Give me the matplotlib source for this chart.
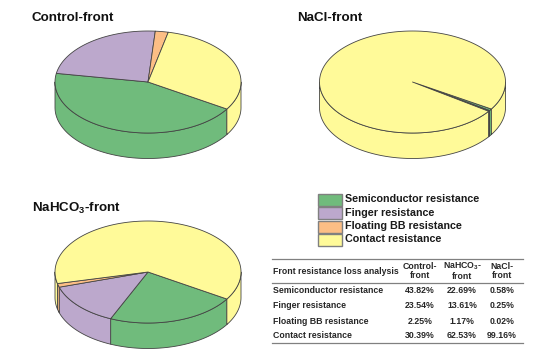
import numpy as np
import matplotlib
matplotlib.use("Agg")
import matplotlib.pyplot as plt
from matplotlib.patches import Rectangle

plt.rcParams['font.family'] = ['Liberation Sans', 'DejaVu Sans']
plt.rcParams['mathtext.fontset'] = 'custom'
plt.rcParams['mathtext.bf'] = 'Liberation Sans:bold'
plt.rcParams['mathtext.rm'] = 'Liberation Sans:bold'

categories = ['Semiconductor resistance', 'Finger resistance',
              'Floating BB resistance', 'Contact resistance']
control = [43.82, 23.54, 2.25, 30.39]
nahco3 = [22.69, 13.61, 1.17, 62.53]
nacl = [0.58, 0.25, 0.02, 99.16]
colors = ['#70BB7C', '#BCA8CC', '#FCBE85', '#FFFA99']
table_title = 'Front resistance loss analysis'
col_labels = ['Control-\nfront', 'NaHCO$_{\\mathbf{3}}$-\nfront', 'NaCl-\nfront']
edge = '#444444'

fig = plt.figure(figsize=(5.54, 3.56), dpi=100)
ax = fig.add_axes([0, 0, 1, 1])
ax.set_xlim(0, 554)
ax.set_ylim(356, 0)
ax.axis('off')


def pie3d(values, cx, cy, a=93, b=51, depth=25.5, start=-32):
    total = sum(values)
    t = start
    slices = []
    for v, c in zip(values, colors):
        slices.append((t - v / total * 360, t, c))
        t -= v / total * 360
    # side walls
    for t1, t2, c in slices:
        for lo, hi in ((-180, 0), (-540, -360)):
            l, h = max(t1, lo), min(t2, hi)
            if h <= l:
                continue
            th = np.radians(np.linspace(l, h, 80))
            x = cx + a * np.cos(th)
            y = cy - b * np.sin(th)
            ax.fill(np.r_[x, x[::-1]], np.r_[y, y[::-1] + depth],
                    fc=c, ec=edge, lw=0.6, joinstyle='round', zorder=2)
    # top faces
    for t1, t2, c in slices:
        th = np.radians(np.linspace(t1, t2, 200))
        x = np.r_[cx, cx + a * np.cos(th)]
        y = np.r_[cy, cy - b * np.sin(th)]
        ax.fill(x, y, fc=c, ec=edge, lw=0.6, joinstyle='round', zorder=3)


pie3d(control, 148, 82)
pie3d(nacl, 412.5, 82)
pie3d(nahco3, 148, 272)

title_kw = dict(fontsize=9.6, fontweight='bold', va='center', ha='left', color='#111111')
ax.text(31, 18, 'Control-front', **title_kw)
ax.text(297, 18, 'NaCl-front', **title_kw)
ax.text(32, 208, 'NaHCO$_{\\mathbf{3}}$-front', **title_kw)

# legend
for i, (name, c) in enumerate(zip(categories, colors)):
    y0 = 193.5 + i * 13.5
    ax.add_patch(Rectangle((318, y0), 24, 12, fc=c, ec='#808080', lw=1.0))
    ax.text(345, y0 + 5.5, name, fontsize=7.75, fontweight='bold', va='center',
            ha='left', color='#1a1a1a')

# table
rule = '#808080'
ax.plot([272, 523], [259, 259], color=rule, lw=0.9)
ax.plot([272, 523], [282.5, 282.5], color=rule, lw=0.9)
ax.plot([272, 523], [343, 343], color=rule, lw=0.9)
tk = dict(fontsize=6.3, fontweight='bold', va='center', color='#262626')
col_x = [420, 462, 502]
ax.text(273, 271, table_title, ha='left', **tk)
for x, lab in zip(col_x, col_labels):
    ax.text(x, 271, lab, ha='center', linespacing=1.05, **tk)
row_y = [290.5, 305.5, 321, 336]
for i, (name, y) in enumerate(zip(categories, row_y)):
    ax.text(273, y, name, ha='left', **tk)
    for x, vals in zip(col_x, (control, nahco3, nacl)):
        ax.text(x, y, f'{vals[i]:.2f}%', ha='center', **tk)

fig.savefig('out.png', dpi=100)
